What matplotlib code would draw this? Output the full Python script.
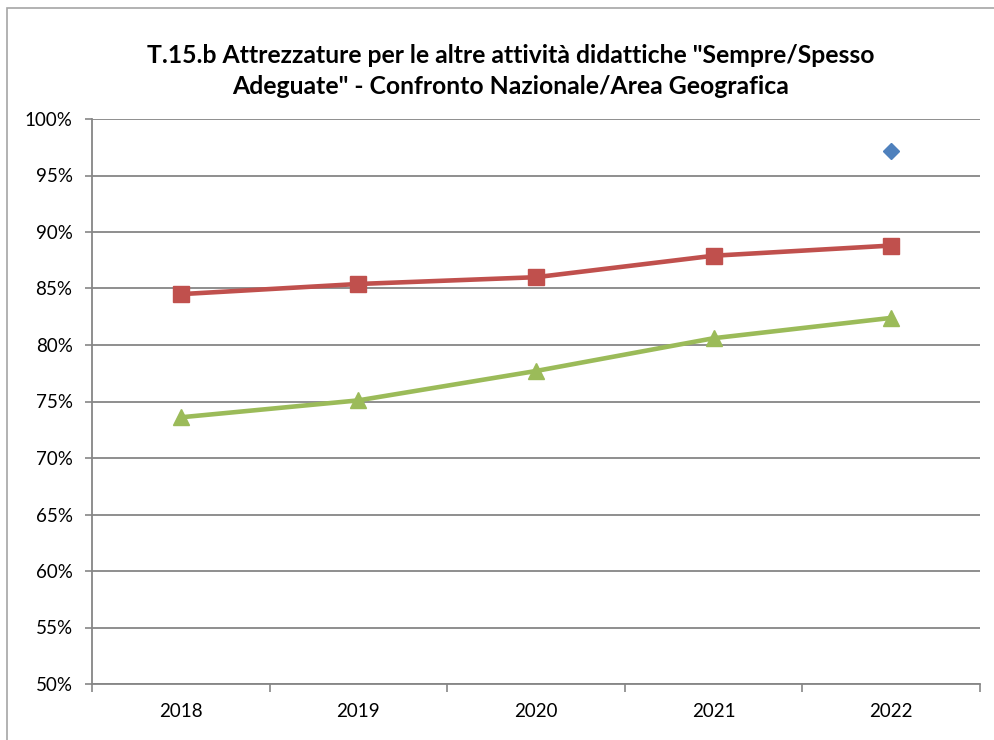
import matplotlib
matplotlib.use("Agg")
import matplotlib.pyplot as plt
from matplotlib.patches import Rectangle
import numpy as np

plt.rcParams['font.family'] = ['Lato', 'DejaVu Sans']

years = ["2018", "2019", "2020", "2021", "2022"]
area = [84.5, 85.4, 86.0, 87.9, 88.8]
nazionale = [73.6, 75.1, 77.7, 80.6, 82.4]
scuola_year = "2022"
scuola = [97.2]

title = ('T.15.b Attrezzature per le altre attività didattiche "Sempre/Spesso\n'
         'Adeguate" - Confronto Nazionale/Area Geografica')

grid_col = "#868686"

fig = plt.figure(figsize=(9.94, 7.40), dpi=100)
fig.patches.append(Rectangle((7 / 994, -0.1), 1.2, (740 - 8) / 740 + 0.1,
                             transform=fig.transFigure, fill=False,
                             edgecolor="#a6a6a6", linewidth=1.2))
ax = fig.add_axes([92 / 994, (740 - 684) / 740, 888 / 994, 565 / 740])

x = np.arange(len(years))
ax.plot(x, area, color="#C0504D", linewidth=3.3, marker="s", markersize=11,
        zorder=3, clip_on=False)
ax.plot(x, nazionale, color="#9BBB59", linewidth=3.3, marker="^", markersize=12,
        zorder=3, clip_on=False)
ax.plot([years.index(scuola_year)], scuola, linestyle="none", color="#4F81BD",
        marker="D", markersize=8, zorder=3, clip_on=False)

ax.set_xlim(-0.5, len(years) - 0.5)
ax.set_ylim(50, 100)
ax.set_yticks(np.arange(50, 101, 5))
ax.set_yticklabels([f"{v}%" for v in range(50, 101, 5)])
ax.set_xticks(x)
ax.set_xticklabels(years)
ax.set_xticks(np.arange(-0.5, len(years), 1), minor=True)
ax.tick_params(axis="x", which="major", length=0, pad=14, labelsize=13.5)
ax.tick_params(axis="x", which="minor", length=6, width=1.2, color=grid_col)
ax.tick_params(axis="y", length=5, width=1.2, color=grid_col, labelsize=13.5, pad=9)

ax.grid(axis="y", color=grid_col, linewidth=1.3, zorder=0)
ax.set_axisbelow(True)
for s in ["top", "right"]:
    ax.spines[s].set_visible(False)
for s in ["left", "bottom"]:
    ax.spines[s].set_color(grid_col)
    ax.spines[s].set_linewidth(1.3)

fig.text(511 / 994, 1 - 71 / 740, title, ha="center", va="center",
         fontsize=17.8, fontweight="bold", linespacing=1.45)

fig.savefig("out.png", dpi=100)
